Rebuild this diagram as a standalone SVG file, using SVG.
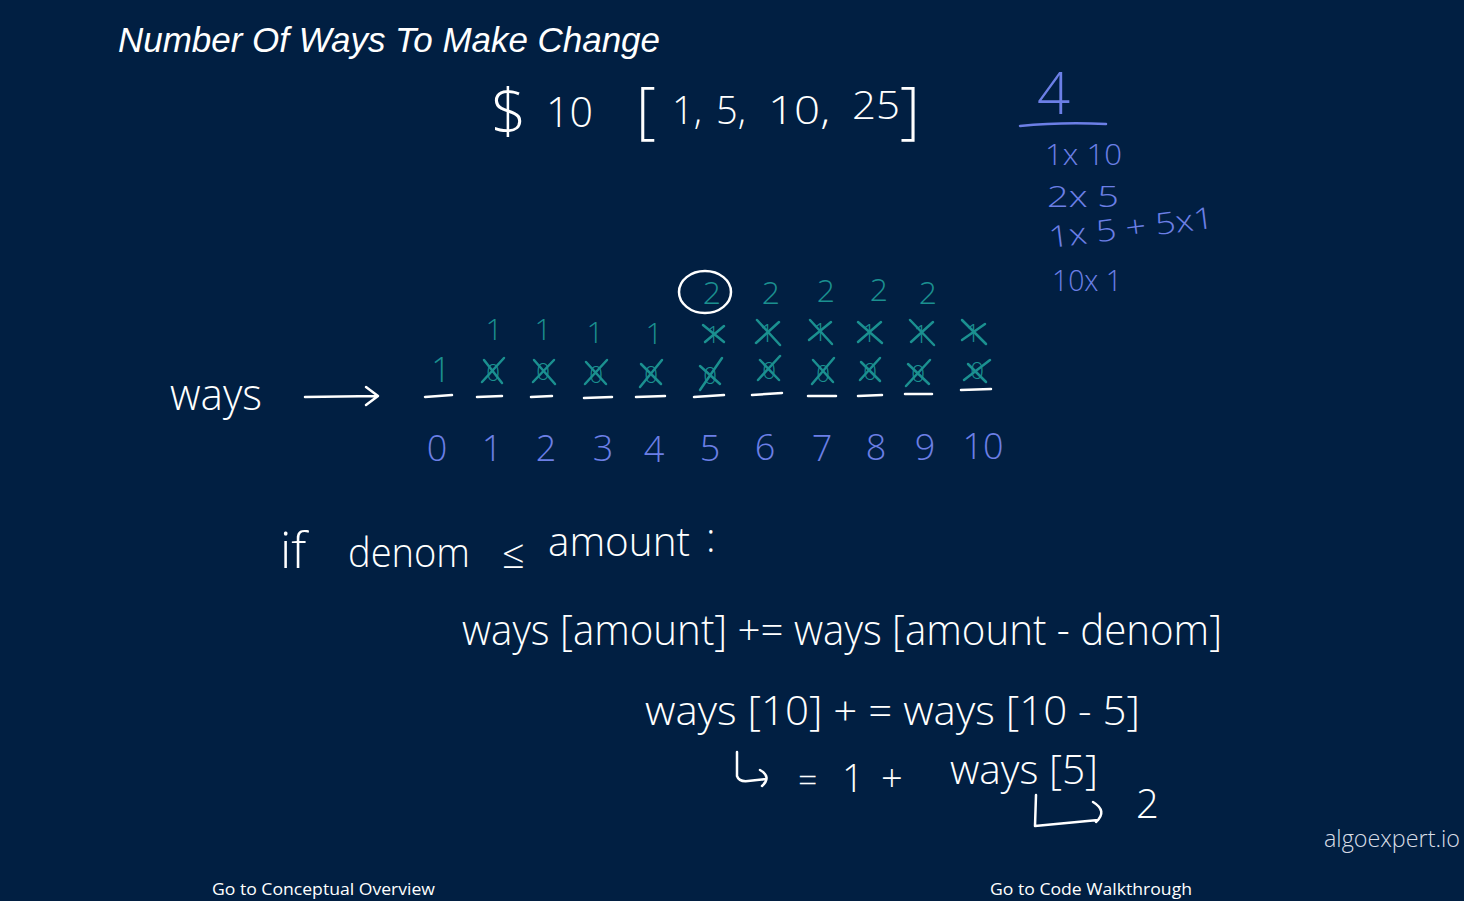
<svg xmlns="http://www.w3.org/2000/svg" width="1464" height="901" viewBox="0 0 1464 901">
<style>
.w{fill:#ffffff;font-family:"Open Sans","Liberation Sans",sans-serif;font-weight:300}
.b{fill:#6c7fe6;font-family:"Open Sans","Liberation Sans",sans-serif;font-weight:300}
.t{fill:#1b9090;font-family:"Open Sans","Liberation Sans",sans-serif;font-weight:300}
.sw{stroke:#ffffff;stroke-width:2.5;fill:none;stroke-linecap:round;stroke-linejoin:round}
.sb{stroke:#6c7fe6;stroke-width:2.5;fill:none;stroke-linecap:round}
.st{stroke:#1b9090;stroke-width:2.5;fill:none;stroke-linecap:round}
.ui{fill:#ffffff;font-family:"Open Sans","Liberation Sans",sans-serif}
</style>
<rect width="1464" height="901" fill="#011f42"/>
<g id="title">
<text x="118" y="52" font-family="Liberation Sans, sans-serif" font-style="italic" font-size="35" fill="#ffffff" textLength="542" lengthAdjust="spacingAndGlyphs">Number Of Ways To Make Change</text>
</g>
<g id="problem">
<text class="w" x="491" y="134" font-size="62">$</text>
<text class="w" x="546" y="127" font-size="42" textLength="47" lengthAdjust="spacingAndGlyphs">10</text>
<text class="w" x="636" y="132" font-size="62">[</text>
<text class="w" x="672" y="124" font-size="38">1,</text>
<text class="w" x="716" y="124" font-size="38">5,</text>
<text class="w" x="768" y="124" font-size="38" textLength="62" lengthAdjust="spacingAndGlyphs">10,</text>
<text class="w" x="852" y="119" font-size="38" textLength="48" lengthAdjust="spacingAndGlyphs">25</text>
<text class="w" x="900" y="132" font-size="62">]</text>
</g>
<g id="answer">
<text class="b" x="1037" y="114" font-size="58">4</text>
<path class="sb" d="M1020 126 Q1060 122 1106 124"/>
<text class="b" x="1045" y="165" font-size="30" textLength="77" lengthAdjust="spacingAndGlyphs">1x 10</text>
<text class="b" x="1047" y="207" font-size="30" textLength="72" lengthAdjust="spacingAndGlyphs">2x 5</text>
<text class="b" x="1050" y="248" font-size="30" textLength="166" lengthAdjust="spacingAndGlyphs" transform="rotate(-7 1050 248)">1x 5 + 5x1</text>
<text class="b" x="1052" y="291" font-size="30" textLength="70" lengthAdjust="spacingAndGlyphs">10x 1</text>
</g>
<g id="ways-label">
<text class="w" x="170" y="410" font-size="44" textLength="92" lengthAdjust="spacingAndGlyphs">ways</text>
</g>
<g id="connectors">
<path class="sw" d="M305 397 L377 396 M366 387 L378 396 L366 405"/>
<path class="sw" d="M737 752 L737 776 Q739 782 748 781 L766 779 M760 770 Q772 777 762 786"/>
<path class="sw" d="M1036 795 L1035 826 L1098 820 M1093 802 Q1108 811 1096 822"/>
</g>
<g id="array">
<g class="sw">
<path d="M425 397 L452 395"/><path d="M477 397 L502 396"/><path d="M531 397 L552 396"/><path d="M584 398 L612 397"/><path d="M636 397 L665 396"/><path d="M694 397 L724 395"/><path d="M752 395 L782 393"/><path d="M808 396 L836 396"/><path d="M858 396 L882 395"/><path d="M905 394 L932 394"/><path d="M961 390 L991 389"/>
</g>
<g font-size="36" text-anchor="middle">
<text class="b" x="437" y="461">0</text><text class="b" x="492" y="461">1</text><text class="b" x="546" y="461">2</text><text class="b" x="603" y="461">3</text><text class="b" x="654" y="462">4</text><text class="b" x="710" y="461">5</text><text class="b" x="765" y="460">6</text><text class="b" x="822" y="461">7</text><text class="b" x="876" y="460">8</text><text class="b" x="925" y="460">9</text><text class="b" x="983" y="459">10</text>
</g>
<g text-anchor="middle">
<text class="t" x="441" y="382" font-size="34">1</text>
<text class="t" x="493" y="381" font-size="24">0</text><text class="t" x="543" y="380" font-size="24">0</text><text class="t" x="596" y="383" font-size="24">0</text><text class="t" x="651" y="383" font-size="24">0</text><text class="t" x="710" y="384" font-size="24">0</text><text class="t" x="769" y="379" font-size="24">0</text><text class="t" x="823" y="382" font-size="24">0</text><text class="t" x="870" y="380" font-size="24">0</text><text class="t" x="918" y="382" font-size="24">0</text><text class="t" x="977" y="379" font-size="24">0</text>
<text class="t" x="494" y="340" font-size="30">1</text><text class="t" x="543" y="340" font-size="30">1</text><text class="t" x="595" y="343" font-size="30">1</text><text class="t" x="654" y="344" font-size="30">1</text>
<text class="t" x="713" y="343" font-size="24">1</text><text class="t" x="767" y="342" font-size="26">1</text><text class="t" x="820" y="341" font-size="26">1</text><text class="t" x="869" y="342" font-size="26">1</text><text class="t" x="921" y="343" font-size="26">1</text><text class="t" x="973" y="342" font-size="26">1</text>
<text class="t" x="712" y="304" font-size="32">2</text><text class="t" x="771" y="304" font-size="32">2</text><text class="t" x="826" y="302" font-size="32">2</text><text class="t" x="879" y="301" font-size="32">2</text><text class="t" x="928" y="304" font-size="32">2</text>
</g>
<g class="st">
<path d="M482 382 L504 358 M484 360 L502 383"/><path d="M533 382 L554 360 M534 360 L555 384"/><path d="M585 384 L607 360 M586 362 L606 384"/><path d="M640 387 L662 360 M641 364 L661 384"/><path d="M700 390 L722 358 M700 366 L720 384"/><path d="M758 380 L780 356 M760 360 L779 380"/><path d="M812 384 L834 358 M813 360 L833 382"/><path d="M860 380 L880 358 M861 362 L880 381"/><path d="M906 386 L930 360 M908 364 L929 384"/><path d="M964 380 L990 360 M968 364 L986 382"/>
<path d="M703 325 L724 342 M705 342 L724 326"/><path d="M757 320 L780 345 M756 343 L779 322"/><path d="M810 320 L832 344 M809 340 L831 322"/><path d="M858 322 L882 343 M858 342 L881 322"/><path d="M910 320 L934 345 M911 342 L933 322"/><path d="M962 320 L986 344 M962 340 L985 324"/>
</g>
<ellipse cx="705" cy="292" rx="26" ry="21" class="sw"/>
</g>
<g id="condition">
<text class="w" x="280" y="568" font-size="50">if</text>
<text class="w" x="348" y="567" font-size="40" textLength="122" lengthAdjust="spacingAndGlyphs">denom</text>
<text class="w" x="502" y="568" font-size="40">≤</text>
<text class="w" x="548" y="556" font-size="40" textLength="142" lengthAdjust="spacingAndGlyphs">amount</text>
<text class="w" x="706" y="552" font-size="40">:</text>
</g>
<g id="formula">
<text class="w" x="462" y="645" font-size="42" textLength="760" lengthAdjust="spacingAndGlyphs">ways [amount] += ways [amount - denom]</text>
<text class="w" x="645" y="725" font-size="40" textLength="495" lengthAdjust="spacingAndGlyphs">ways [10] + = ways [10 - 5]</text>
<text class="w" x="798" y="792" font-size="34">=</text>
<text class="w" x="842" y="792" font-size="38">1</text>
<text class="w" x="881" y="792" font-size="38">+</text>
<text class="w" x="950" y="784" font-size="40" textLength="148" lengthAdjust="spacingAndGlyphs">ways [5]</text>
<text class="w" x="1136" y="818" font-size="40">2</text>
</g>
<g id="branding">
<text x="1324" y="847" font-family="Open Sans, Liberation Sans, sans-serif" font-weight="300" font-size="24" fill="#d8dde6" textLength="136" lengthAdjust="spacingAndGlyphs">algoexpert.io</text>
<text class="ui" x="212" y="895" font-size="17" textLength="223" lengthAdjust="spacingAndGlyphs">Go to Conceptual Overview</text>
<text class="ui" x="990" y="895" font-size="17" textLength="202" lengthAdjust="spacingAndGlyphs">Go to Code Walkthrough</text>
</g>
</svg>
